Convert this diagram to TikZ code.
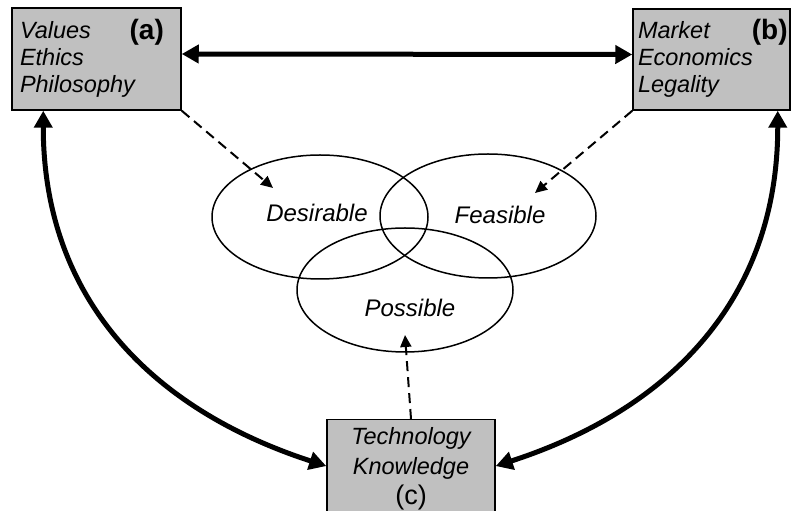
\documentclass[tikz,border=0pt]{standalone}
\usepackage{fontspec}
\setmainfont{Liberation Sans}
\usepackage{tikz}
\usetikzlibrary{arrows.meta,shapes.geometric}
\definecolor{boxgray}{HTML}{C0C0C0}
\tikzset{
    gray-box/.style = {draw=black, fill=boxgray, line width=1.5pt, rectangle, inner sep=8pt, font=\fontsize{23.5}{27}\selectfont\itshape},
    gray-box-tag/.style = {font=\fontsize{28}{30}\selectfont\bfseries},
    venn/.style = {draw, ellipse, line width=1.5pt, minimum width=216pt, minimum height=124pt},
    venn-label/.style = {font=\fontsize{24}{27}\selectfont\itshape},
    thick-link/.style = {line width=5pt, {Triangle[length=17pt,width=18pt]}-{Triangle[length=17pt,width=18pt]}},
    dashed-link/.style = {line width=2pt, dash pattern=on 10pt off 6pt, -{Triangle[length=12pt,width=11pt]}},
}

\begin{document}
\begin{tikzpicture}[x=1pt, y=1pt]
\useasboundingbox (0,0) rectangle (792,511);

\node [venn] (des) at (320,294) {};
\node [venn] (fea) at (488,295) {};
\node [venn] (pos) at (405,221) {};
\node [venn-label] (des-label) at (317,298) {Desirable};
\node [venn-label] (fea-label) at (500,296) {Feasible};
\node [venn-label] (pos-label) at (410,203) {Possible};

\node [gray-box, text width=153pt, minimum height=102pt, align=left] (values) at (96.5,452) {Values\\Ethics\\Philosophy};
\node [gray-box-tag] at ([shift={(-35pt,-25pt)}]values.north east) {(a)};
\node [gray-box, inner xsep=5pt, text width=147pt, minimum height=101pt, align=left] (market) at (711.5,451.5) {Market\\Economics\\Legality};
\node [gray-box-tag] at ([shift={(-21pt,-24pt)}]market.north east) {(b)};
\node [gray-box, text width=152pt, align=center, anchor=north, font=\fontsize{23.5}{30}\selectfont\itshape] (tech) at (411,92) {Technology\\Knowledge\\\upshape\fontsize{27}{30}\selectfont (c)};

\coordinate (des-in) at ([shift={(-47pt,29pt)}]des.center);
\coordinate (fea-in) at ([shift={(47pt,23pt)}]fea.center);
\coordinate (pos-in) at ([shift={(0pt,-45pt)}]pos.center);

\draw [thick-link] ([yshift=5pt]values.east) -- ([yshift=5pt]market.west);
\draw [thick-link] ([xshift=32pt]values.south west) to[out=-90, in=162, looseness=1.05] ([yshift=3pt]tech.west);
\draw [thick-link] ([xshift=-13pt]market.south east) to[out=-90, in=18, looseness=1.05] ([yshift=3pt]tech.east);

\draw [dashed-link] (values.south east) -- (des-in);
\draw [dashed-link] (market.south west) -- (fea-in);
\draw [dashed-link] (tech.north) -- (pos-in);
\end{tikzpicture}
\end{document}
